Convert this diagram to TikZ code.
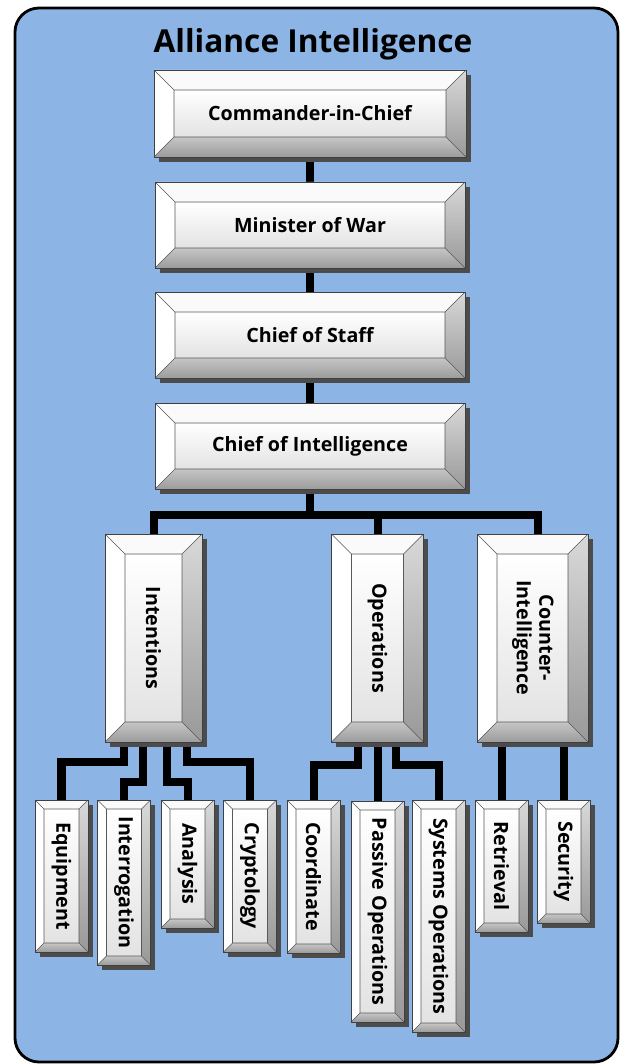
\documentclass[tikz,border=0pt]{standalone}
\usepackage{fontspec}
\setmainfont{Open Sans}
\usepackage{graphicx}
\usetikzlibrary{calc,shadows}
\definecolor{panelblue}{RGB}{140,180,228}
\newcommand\lblfont{\fontsize{14}{16}\selectfont\bfseries}
\pgfdeclarelayer{panel}
\pgfdeclarelayer{wires}
\pgfsetlayers{panel,wires,main}
\tikzset{
  bw/.code={\def\bvl{#1}},
  wh/.style 2 args={minimum width=#1*0.025cm, minimum height=#2*0.025cm},
  bevbox/.style={draw=black!75, line width=0.4pt, inner sep=0pt, font=\lblfont, bw=20,
    general shadow={fill=black!70, shadow xshift=0.12cm, shadow yshift=-0.12cm},
    path picture={
      \path (path picture bounding box.north west) coordinate (pa)
            (path picture bounding box.north east) coordinate (pb)
            (path picture bounding box.south east) coordinate (pc)
            (path picture bounding box.south west) coordinate (pd)
            ($(pa)+(\bvl,\bvl)$) coordinate (qa)
            ($(pb)+(-\bvl,\bvl)$) coordinate (qb)
            ($(pc)+(-\bvl,-\bvl)$) coordinate (qc)
            ($(pd)+(\bvl,-\bvl)$) coordinate (qd);
      \shade[top color=white, bottom color=gray!22] (qa) rectangle (qc);
      \fill[gray!4] (pa) -- (pb) -- (qb) -- (qa) -- cycle;
      \fill[white] (pa) -- (qa) -- (qd) -- (pd) -- cycle;
      \shade[top color=gray!30, bottom color=gray!80] (pb) -- (pc) -- (qc) -- (qb) -- cycle;
      \shade[top color=gray!45, bottom color=gray!78] (qd) -- (qc) -- (pc) -- (pd) -- cycle;
      \draw[black!65, line width=0.4pt] (qa) rectangle (qc) (pa) -- (qa) (pb) -- (qb) (pc) -- (qc) (pd) -- (qd);
    }},
  subbox/.style={bevbox, bw=9},
  wire/.style={line width=0.2cm, line join=miter}
}
\begin{document}
\begin{tikzpicture}[x=0.025cm, y=-0.025cm]
\useasboundingbox (0,0) rectangle (627,1064);
\begin{pgfonlayer}{panel}
\draw[fill=panelblue, line width=0.07cm, rounded corners=0.6cm] (15,8) rectangle (618,1062);
\end{pgfonlayer}
\node (title) at (313,44) {\fontsize{22.5}{26}\selectfont\bfseries Alliance Intelligence};
\node[bevbox, wh={312}{87}] (cic) at (310,113.5) {Commander-in-Chief};
\node[bevbox, wh={310}{86}] (mow) at (310,225) {Minister of War};
\node[bevbox, wh={310}{86}] (cos) at (310,335) {Chief of Staff};
\node[bevbox, wh={310}{86}] (coi) at (310,446) {Chief of Intelligence};
\node[bevbox, wh={97}{208}] (int) at (153.5,638) {\rotatebox{-90}{Intentions}};
\node[bevbox, wh={92}{208}] (ops) at (377.5,638) {\rotatebox{-90}{Operations}};
\node[bevbox, wh={111}{208}] (cin) at (532.5,638) {\rotatebox{-90}{\begin{tabular}{@{}c@{}}Counter-\\Intelligence\end{tabular}}};
\node[subbox, wh={53}{152}] (eqp) at (61.5,876) {\rotatebox{-90}{Equipment}};
\node[subbox, wh={53}{165}] (itg) at (124,882.5) {\rotatebox{-90}{Interrogation}};
\node[subbox, wh={53}{128}] (ana) at (187.5,864) {\rotatebox{-90}{Analysis}};
\node[subbox, wh={53}{152}] (cry) at (250,876) {\rotatebox{-90}{Cryptology}};
\node[subbox, wh={53}{153}] (crd) at (313.5,876.5) {\rotatebox{-90}{Coordinate}};
\node[subbox, wh={53}{221}] (pas) at (377.5,911.5) {\rotatebox{-90}{Passive Operations}};
\node[subbox, wh={53}{232}] (sys) at (438.5,916) {\rotatebox{-90}{Systems Operations}};
\node[subbox, wh={53}{132}] (ret) at (501.5,866) {\rotatebox{-90}{Retrieval}};
\node[subbox, wh={53}{123}] (sec) at (563.5,861.5) {\rotatebox{-90}{Security}};
\coordinate (bus) at (310,515);
\begin{pgfonlayer}{wires}
\draw[wire] (cic.south) -- (mow.north);
\draw[wire] (mow.south) -- (cos.north);
\draw[wire] (cos.south) -- (coi.north);
\draw[wire] (coi.south) -- (bus) -| (int.north);
\draw[wire] (bus) -| (ops.north);
\draw[wire] (bus) -| ($(cin.north)+(5,0)$);
\draw[wire] ($(int.south)+(-30,0)$) -- ++(0,20) -| (eqp.north);
\draw[wire] ($(int.south)+(-11,0)$) -- ++(0,40) -| (itg.north);
\draw[wire] ($(int.south)+(13,0)$) -- ++(0,40) -| (ana.north);
\draw[wire] ($(int.south)+(33,0)$) -- ++(0,20) -| (cry.north);
\draw[wire] ($(ops.south)+(-20,0)$) -- ++(0,23) -| (crd.north);
\draw[wire] (ops.south) -- (pas.north);
\draw[wire] ($(ops.south)+(18,0)$) -- ++(0,23) -| (sys.north);
\draw[wire] (ret.north |- cin.south) -- (ret.north);
\draw[wire] (sec.north |- cin.south) -- (sec.north);
\end{pgfonlayer}
\end{tikzpicture}
\end{document}
